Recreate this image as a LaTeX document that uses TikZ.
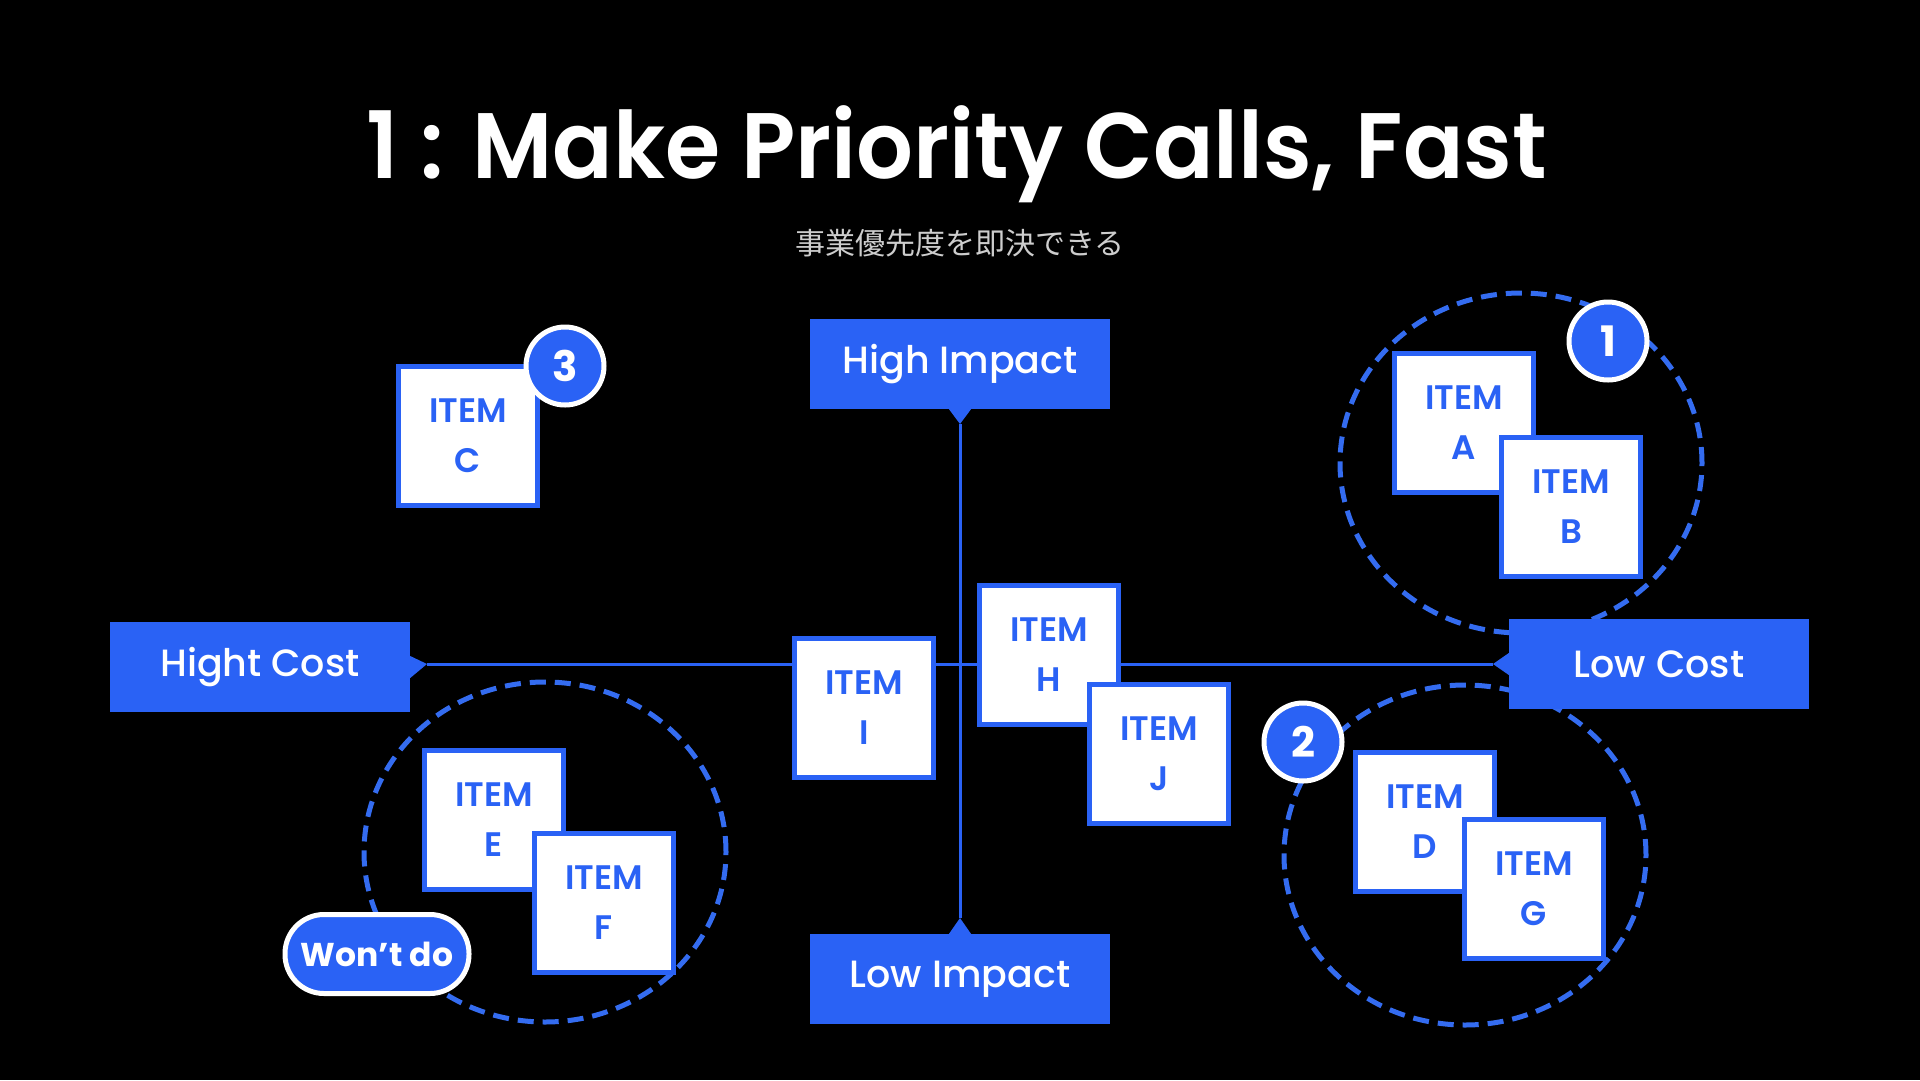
\documentclass[tikz,border=0pt]{standalone}
\usepackage{fontspec}
\usetikzlibrary{shapes.geometric}
\setmainfont{Poppins}
\newfontfamily\pmed{Poppins Medium}
\newfontfamily\psemi{Poppins SemiBold}
\newfontfamily\pbold{Poppins Bold}
\newfontfamily\cjk{Noto Sans CJK JP}
\definecolor{brand}{RGB}{42,98,245}
\definecolor{dashblue}{RGB}{52,108,240}
\definecolor{subgray}{RGB}{205,205,205}
\begin{document}
\begin{tikzpicture}[x=1pt,y=-1pt,
  item/.style={draw=brand, line width=5pt, fill=white, minimum width=139pt, minimum height=139pt, inner sep=0pt, align=center, text=brand, font=\psemi\fontsize{34}{50}\selectfont},
  tag/.style={fill=brand, minimum width=300pt, minimum height=90pt, inner sep=0pt, text=white, font=\pmed\fontsize{38}{44}\selectfont},
  badge/.style={circle, fill=brand, draw=white, line width=5pt, minimum size=78pt, inner sep=0pt, text=white, font=\pbold\fontsize{42}{42}\selectfont},
  group/.style={ellipse, draw=dashblue, line width=5pt, dash pattern=on 16pt off 9pt, inner sep=0pt},
  axis/.style={draw=brand, line width=3pt}]
\useasboundingbox (0,0) rectangle (1920,1080);
\fill[black] (0,0) rectangle (1920,1080);

% title
\node[font=\psemi\fontsize{93}{100}\selectfont, text=white, anchor=base] (title) at (957,178) {\scalebox{0.96}[1]{1 : Make Priority Calls, Fast}};
\node[font=\cjk\fontsize{30}{36}\selectfont, text=subgray] (sub) at (960,243) {事業優先度を即決できる};

% axis tips
\coordinate (hctip) at (427,664);
\coordinate (lctip) at (1493,664);
\coordinate (hitip) at (960,424);
\coordinate (litip) at (960,918);
\draw[axis] (hctip) -- (lctip);
\draw[axis] (hitip) -- (litip);

% groups
\node[group, minimum width=362pt, minimum height=340pt] (g1) at (1521,463) {};
\node[group, minimum width=362pt, minimum height=340pt] (g2) at (1465,855) {};
\node[group, minimum width=362pt, minimum height=340pt] (g3) at (545,852) {};

% axis labels
\node[tag] (hi) at (960,364) {High Impact};
\node[tag] (li) at (960,979) {Low Impact};
\node[tag] (hc) at (260,667) {Hight Cost};
\node[tag] (lc) at (1659,664) {Low Cost};
\fill[brand] ([xshift=-11pt]hi.south) -- (hitip) -- ([xshift=11pt]hi.south) -- cycle;
\fill[brand] ([xshift=-11pt]li.north) -- (litip) -- ([xshift=11pt]li.north) -- cycle;
\fill[brand] ([yshift=11pt]hc.east) -- (hctip) -- ([yshift=-11pt]hc.east) -- cycle;
\fill[brand] ([yshift=11pt]lc.west) -- (lctip) -- ([yshift=-11pt]lc.west) -- cycle;

% items
\node[item] (ia) at (1464,423) {ITEM\\A};
\node[item] (ib) at (1571,507) {ITEM\\B};
\node[item] (ic) at (468,436) {ITEM\\C};
\node[item] (id) at (1425,822) {ITEM\\D};
\node[item] (ig) at (1534,889) {ITEM\\G};
\node[item] (ie) at (494,820) {ITEM\\E};
\node[item] (if) at (604,903) {ITEM\\F};
\node[item] (ii) at (864,708) {ITEM\\I};
\node[item] (ih) at (1049,655) {ITEM\\H};
\node[item] (ij) at (1159,754) {ITEM\\J};

% badges
\node[badge] (b1) at (1608,341) {1};
\node[badge] (b2) at (1303,742) {2};
\node[badge] (b3) at (565,366) {3};

% won't do
\node[fill=brand, draw=white, line width=5pt, rounded corners=39pt, minimum width=184pt, minimum height=79pt, inner sep=0pt, text=white, font=\pbold\fontsize{33}{36}\selectfont] (wont) at (377,954) {Won’t do};
\end{tikzpicture}
\end{document}
